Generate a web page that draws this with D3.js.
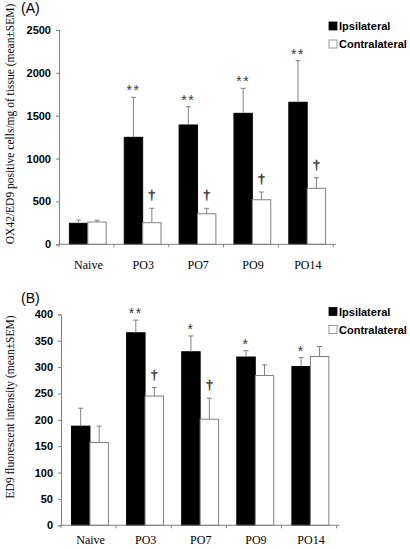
<!DOCTYPE html>
<html><head><meta charset="utf-8">
<script src="https://cdn.jsdelivr.net/npm/d3@7"></script>
<style>body{margin:0;background:#fff}svg{display:block}</style>
</head><body>
<script>
const categories = ["Naive","PO3","PO7","PO9","PO14"];
const seriesNames = ["Ipsilateral","Contralateral"];
// Panel A: OX42/ED9 positive cells/mg of tissue
const aIpsi = [245, 1248, 1392, 1528, 1657];
const aIpsiErr = [38, 467, 213, 292, 485];
const aContra = [260, 252, 357, 520, 653];
const aContraErr = [20, 168, 63, 90, 124];
const aIpsiSig = ["", "**", "**", "**", "**"];
const aContraSig = ["", "†", "†", "†", "†"];
const aTicks = [0, 500, 1000, 1500, 2000, 2500];
// Panel B: ED9 fluorescent intensity
const bIpsi = [188, 365, 329, 319, 301];
const bIpsiErr = [34, 24, 30, 12, 17];
const bContra = [157, 245, 201, 284, 320];
const bContraErr = [31, 16, 40, 20, 19];
const bIpsiSig = ["", "**", "*", "*", "*"];
const bContraSig = ["", "†", "†", "", ""];
const bTicks = [0, 50, 100, 150, 200, 250, 300, 350, 400];

const W = 410, H = 549;
const svg = d3.select("body").append("svg").attr("width", W).attr("height", H);
const sans = "'Liberation Sans', Arial, sans-serif";
const serif = "'Liberation Serif', 'Times New Roman', serif";
const grey = "#808080";

function panel(o) {
  const g = svg.append("g");
  const x0 = d3.scaleBand().domain(categories).range([o.left, o.right]).paddingInner(0.33).paddingOuter(0.19);
  const x1 = d3.scaleBand().domain(seriesNames).range([0, x0.bandwidth()]);
  const y = d3.scaleLinear().domain([0, o.max]).range([o.bottom, o.top]);
  const series = [
    {name: "Ipsilateral", vals: o.ipsi, errs: o.ipsiErr, sig: o.ipsiSig, fill: "#000", stroke: "#000"},
    {name: "Contralateral", vals: o.contra, errs: o.contraErr, sig: o.contraSig, fill: "#fff", stroke: grey}
  ];
  series.forEach(s => {
    const sg = g.append("g");
    categories.forEach((c, i) => {
      const bx = x0(c) + x1(s.name);
      const bw = x1.bandwidth();
      const top = y(s.vals[i]);
      sg.append("rect").attr("x", bx).attr("y", top).attr("width", bw).attr("height", y(0) - top)
        .attr("fill", s.fill).attr("stroke", s.stroke).attr("stroke-width", 1);
      const cx = bx + bw / 2;
      const et = y(s.vals[i] + s.errs[i]);
      sg.append("line").attr("x1", cx).attr("x2", cx).attr("y1", top).attr("y2", et)
        .attr("stroke", grey).attr("stroke-width", 1);
      sg.append("line").attr("x1", cx - 2.5).attr("x2", cx + 2.5).attr("y1", et).attr("y2", et)
        .attr("stroke", grey).attr("stroke-width", 1);
      if (s.sig[i]) {
        const isDag = s.sig[i] === "†";
        const t = sg.append("text").attr("x", cx).attr("y", et - (isDag ? 9 : 2))
          .attr("text-anchor", "middle").attr("font-family", isDag ? serif : sans)
          .attr("font-size", isDag ? 13 : 14).attr("letter-spacing", isDag ? 0 : 1.5)
          .attr("fill", "#333").attr("opacity", 0.99).text(s.sig[i]);
        if (isDag) t.attr("stroke", "#333").attr("stroke-width", 0.5);
      }
    });
  });
  // y axis
  const ya = g.append("g").attr("transform", `translate(${o.left},0)`)
    .call(d3.axisLeft(y).tickValues(o.ticks).tickSize(3).tickPadding(5).tickFormat(d3.format("d")));
  ya.select(".domain").attr("stroke", grey);
  ya.selectAll(".tick line").attr("stroke", grey);
  ya.selectAll("text").attr("font-family", sans).attr("font-weight", "bold").attr("font-size", 11).attr("fill", "#000");
  // x axis
  const xa = g.append("g").attr("transform", `translate(0,${o.bottom})`);
  xa.append("line").attr("x1", o.left).attr("x2", o.right).attr("stroke", grey);
  const step = x0.step();
  d3.range(categories.length + 1).forEach(k => {
    const tx = o.left + k * step;
    xa.append("line").attr("x1", tx).attr("x2", tx).attr("y1", 0).attr("y2", 3).attr("stroke", grey);
  });
  categories.forEach((c, i) => {
    xa.append("text").attr("x", o.left + (i + 0.5) * step + 2).attr("y", o.xLabDy)
      .attr("text-anchor", "middle").attr("font-family", serif).attr("font-size", 12).text(c);
  });
  // y label
  g.append("text").attr("transform", `translate(${o.labelX},${o.labelY}) rotate(-90)`)
    .attr("text-anchor", "middle").attr("font-family", serif).attr("font-size", 11.5).text(o.ylabel);
  // panel tag
  g.append("text").attr("x", 21).attr("y", o.tagY).attr("font-family", sans).attr("font-size", 14).text(o.tag);
  // legend
  series.forEach((s, k) => {
    const ly = o.legY + k * o.legGap;
    g.append("rect").attr("x", 329).attr("y", ly - 8).attr("width", 8).attr("height", 8)
      .attr("fill", s.fill).attr("stroke", k ? grey : "#000").attr("stroke-width", 0.8);
    g.append("text").attr("x", 339).attr("y", ly).attr("font-family", sans).attr("font-weight", "bold")
      .attr("font-size", 11).text(s.name);
  });
}

panel({left: 59, right: 336, top: 30, bottom: 244.3, max: 2500, ticks: aTicks,
  ipsi: aIpsi, ipsiErr: aIpsiErr, contra: aContra, contraErr: aContraErr,
  ipsiSig: aIpsiSig, contraSig: aContraSig, xLabDy: 25,
  ylabel: "OX42/ED9 positive cells/mg of tissue (mean±SEM)", labelX: 14, labelY: 124,
  tag: "(A)", tagY: 13, legY: 30, legGap: 18});

panel({left: 61, right: 339.3, top: 314.3, bottom: 525.3, max: 400, ticks: bTicks,
  ipsi: bIpsi, ipsiErr: bIpsiErr, contra: bContra, contraErr: bContraErr,
  ipsiSig: bIpsiSig, contraSig: bContraSig, xLabDy: 19,
  ylabel: "ED9 fluorescent intensity (mean±SEM)", labelX: 14, labelY: 407,
  tag: "(B)", tagY: 303, legY: 315.5, legGap: 18});
</script>
</body></html>
